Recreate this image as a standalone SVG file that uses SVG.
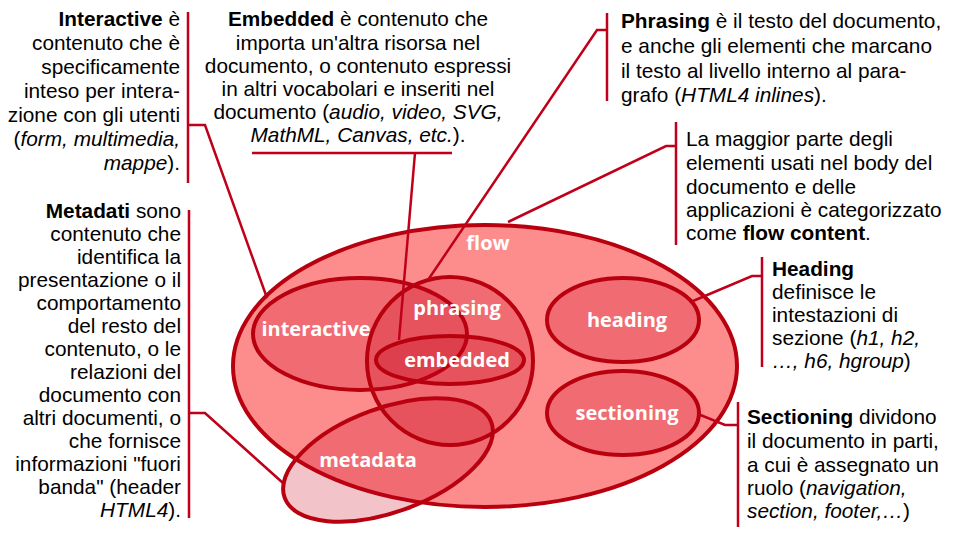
<svg xmlns="http://www.w3.org/2000/svg" width="954" height="533" viewBox="0 0 954 533">
<style>
.t{font-family:"Liberation Sans",Arial,sans-serif;font-size:20.8px;fill:#000}
.r{text-anchor:end}
.m{text-anchor:middle}
.lab{font-family:"Open Sans","DejaVu Sans",sans-serif;font-weight:bold;font-size:20px;fill:#fff;text-anchor:middle}
.set{fill:#c8001a;fill-opacity:0.23;stroke:#b8000f;stroke-width:4}
.ln{fill:none;stroke:#c0001a;stroke-width:2.5}
</style>
<rect width="954" height="533" fill="#fff"/>
<g id="flow"><ellipse cx="485" cy="366" rx="252" ry="141" fill="#fd8d8d" stroke="#b8000f" stroke-width="4"/><text class="lab" x="488" y="250">flow</text></g>
<g id="metadata"><ellipse class="set" cx="388" cy="460" rx="110" ry="52" transform="rotate(-20 388 460)"/><text class="lab" x="368" y="467">metadata</text></g>
<g id="interactive"><ellipse class="set" cx="360" cy="334" rx="107" ry="56"/><text class="lab" x="316" y="336">interactive</text></g>
<g id="phrasing"><ellipse class="set" cx="450" cy="361" rx="83" ry="84"/><text class="lab" x="457" y="315">phrasing</text></g>
<g id="embedded"><ellipse class="set" cx="450" cy="360" rx="74" ry="24"/><text class="lab" x="457" y="367">embedded</text></g>
<g id="heading"><ellipse class="set" cx="623" cy="320" rx="76" ry="42"/><text class="lab" x="627" y="327">heading</text></g>
<g id="sectioning"><ellipse class="set" cx="623" cy="413" rx="76" ry="42"/><text class="lab" x="627" y="420">sectioning</text></g>
<g id="connectors">
<polyline class="ln" points="188,12 188,183"/><polyline class="ln" points="188,125 205,125 267,298"/>
<polyline class="ln" points="252,153 452,153"/><polyline class="ln" points="415,153 399,340"/>
<polyline class="ln" points="607,13 607,101"/><polyline class="ln" points="607,30 597,30 428,280"/>
<polyline class="ln" points="676,122 676,245"/><polyline class="ln" points="676,146 666,146 508,222"/>
<polyline class="ln" points="762,257 762,367"/><polyline class="ln" points="762,276 752,276 693,301"/>
<polyline class="ln" points="738,402 738,527"/><polyline class="ln" points="738,425 725,425 698,414"/>
<polyline class="ln" points="189,210 189,518"/><polyline class="ln" points="189,413 205,413 283,483"/>
</g>
<g id="txt-interactive" class="t r">
<text x="180" y="26"><tspan font-weight="bold">Interactive</tspan> è</text>
<text x="180" y="50">contenuto che è</text>
<text x="180" y="74">specificamente</text>
<text x="180" y="98">inteso per intera-</text>
<text x="180" y="122">zione con gli utenti</text>
<text x="180" y="146">(<tspan font-style="italic">form, multimedia,</tspan></text>
<text x="180" y="170"><tspan font-style="italic">mappe</tspan>).</text>
</g>
<g id="txt-embedded" class="t m">
<text x="358" y="26"><tspan font-weight="bold">Embedded</tspan> è contenuto che</text>
<text x="358" y="50">importa un'altra risorsa nel</text>
<text x="358" y="73">documento, o contenuto espressi</text>
<text x="358" y="96">in altri vocabolari e inseriti nel</text>
<text x="358" y="119">documento (<tspan font-style="italic">audio, video, SVG,</tspan></text>
<text x="358" y="142"><tspan font-style="italic">MathML, Canvas, etc.</tspan>).</text>
</g>
<g id="txt-phrasing" class="t">
<text x="621" y="28"><tspan font-weight="bold">Phrasing</tspan> è il testo del documento,</text>
<text x="621" y="53">e anche gli elementi che marcano</text>
<text x="621" y="78">il testo al livello interno al para-</text>
<text x="621" y="102">grafo (<tspan font-style="italic">HTML4 inlines</tspan>).</text>
</g>
<g id="txt-flow" class="t">
<text x="686" y="146">La maggior parte degli</text>
<text x="686" y="170">elementi usati nel body del</text>
<text x="686" y="194">documento e delle</text>
<text x="686" y="217">applicazioni è categorizzato</text>
<text x="686" y="240">come <tspan font-weight="bold">flow content</tspan>.</text>
</g>
<g id="txt-heading" class="t">
<text x="772" y="276"><tspan font-weight="bold">Heading</tspan></text>
<text x="772" y="299">definisce le</text>
<text x="772" y="322">intestazioni di</text>
<text x="772" y="345">sezione (<tspan font-style="italic">h1, h2,</tspan></text>
<text x="772" y="368"><tspan font-style="italic">…, h6, hgroup</tspan>)</text>
</g>
<g id="txt-sectioning" class="t">
<text x="747" y="424"><tspan font-weight="bold">Sectioning</tspan> dividono</text>
<text x="747" y="448">il documento in parti,</text>
<text x="747" y="472">a cui è assegnato un</text>
<text x="747" y="495">ruolo (<tspan font-style="italic">navigation,</tspan></text>
<text x="747" y="518"><tspan font-style="italic">section, footer,…</tspan>)</text>
</g>
<g id="txt-metadata" class="t r">
<text x="181" y="218"><tspan font-weight="bold">Metadati</tspan> sono</text>
<text x="181" y="241">contenuto che</text>
<text x="181" y="264">identifica la</text>
<text x="181" y="287">presentazione o il</text>
<text x="181" y="310">comportamento</text>
<text x="181" y="333">del resto del</text>
<text x="181" y="356">contenuto, o le</text>
<text x="181" y="379">relazioni del</text>
<text x="181" y="402">documento con</text>
<text x="181" y="425">altri documenti, o</text>
<text x="181" y="448">che fornisce</text>
<text x="181" y="471">informazioni "fuori</text>
<text x="181" y="494">banda" (header</text>
<text x="181" y="517"><tspan font-style="italic">HTML4</tspan>).</text>
</g>
</svg>
